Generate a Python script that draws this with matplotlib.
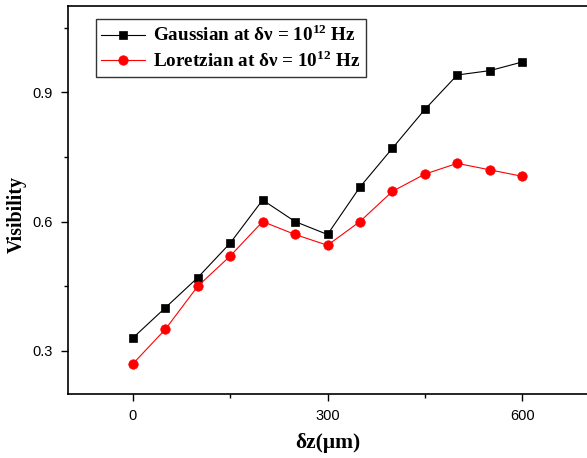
import matplotlib
matplotlib.use("Agg")
import matplotlib.pyplot as plt
from matplotlib.ticker import MultipleLocator

dz = [0, 50, 100, 150, 200, 250, 300, 350, 400, 450, 500, 550, 600]
gaussian = [0.33, 0.40, 0.47, 0.55, 0.65, 0.60, 0.57, 0.68, 0.77, 0.86, 0.94, 0.95, 0.97]
lorentzian = [0.27, 0.35, 0.45, 0.52, 0.60, 0.57, 0.545, 0.60, 0.67, 0.71, 0.735, 0.72, 0.705]

plt.rcParams["mathtext.fontset"] = "custom"
plt.rcParams["mathtext.rm"] = "Liberation Serif:bold"
plt.rcParams["mathtext.bf"] = "Liberation Serif:bold"

fig = plt.figure(figsize=(5.87, 4.58), dpi=100)
ax = fig.add_axes([68 / 587, 64 / 458, 519 / 587, 388 / 458])

ax.plot(dz, gaussian, color="black", lw=0.8, marker="s", ms=5.5, mew=0.5,
        label=r"Gaussian at δν = 10$^{12}$ Hz")
ax.plot(dz, lorentzian, color="red", lw=0.8, marker="o", ms=6.8, mew=0.5,
        label=r"Loretzian at δν = 10$^{12}$ Hz")

ax.set_xlim(-100, 700)
ax.set_ylim(0.2, 1.1)
ax.xaxis.set_minor_locator(MultipleLocator(150))
ax.yaxis.set_minor_locator(MultipleLocator(0.15))
ax.set_xticks([0, 300, 600])
ax.set_yticks([0.3, 0.6, 0.9])
ax.set_yticklabels(["0.3", "0.6", "0.9"])

for lab in ax.get_xticklabels() + ax.get_yticklabels():
    lab.set_fontfamily("Liberation Sans")
    lab.set_fontsize(10.5)
ax.tick_params(which="major", direction="out", length=5, width=1, pad=6)
ax.tick_params(which="minor", direction="out", length=3, width=1)
for s in ax.spines.values():
    s.set_linewidth(1.2)
ax.spines["right"].set_visible(False)

ax.set_xlabel("δz(μm)", fontfamily="Liberation Serif", fontweight="bold",
              fontsize=15.5, labelpad=7)
ax.set_ylabel("Visibility", fontfamily="Liberation Serif", fontweight="bold",
              fontsize=14.3, va="center")
ax.yaxis.set_label_coords(-0.098, 0.463)

leg = ax.legend(loc="upper left", bbox_to_anchor=(0.053, 0.967), frameon=True,
                fancybox=False, edgecolor="black", borderpad=0.3,
                handlelength=2.3, handletextpad=0.4, labelspacing=0.25,
                borderaxespad=0,
                prop={"family": "Liberation Serif", "weight": "bold", "size": 13.8})
leg.get_frame().set_linewidth(1)

fig.savefig("out.png", dpi=100)
